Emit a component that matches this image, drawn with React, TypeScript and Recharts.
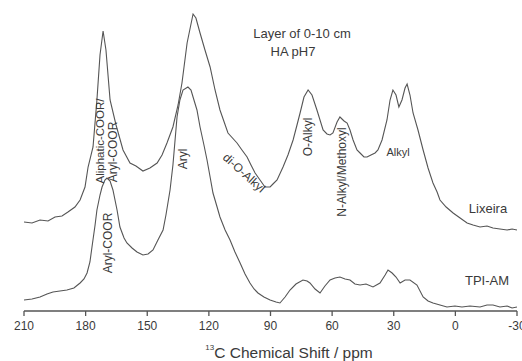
import React from 'react';
import { LineChart, Line, XAxis, YAxis } from 'recharts';

// chemical shift (ppm) and relative intensity
const lixeiraShift = [
  210, 206.1, 202.2, 198.3, 194.9, 191.5, 188.6, 185.2, 182.7, 180.3, 178.8, 176.4, 174.5, 173.0, 171.5,
  170.1, 168.1, 165.2, 161.8, 158.4, 155.5, 152.1, 148.7, 145.2, 142.8, 140.4, 137.5, 135.0, 133.1, 130.6,
  127.7, 126.3, 124.3, 121.9, 119.4, 117.0, 114.6, 110.7, 106.3, 103.9, 101.4, 99.5, 97.5, 95.1, 92.7,
  90.2, 88.8, 86.8, 83.9, 81.5, 79.0, 77.1, 75.6, 73.7, 71.7, 69.8, 67.4, 64.4, 62.5, 61.0,
  59.6, 57.6, 56.2, 54.2, 52.7, 51.3, 49.8, 47.9, 46.4, 44.5, 43.0, 41.1, 39.1, 37.7, 35.7,
  33.3, 31.8, 30.4, 28.9, 27.5, 26.0, 24.5, 23.5, 22.1, 20.6, 18.2, 15.7, 13.3, 10.9, 8.9,
  7.5, 4.5, 1.1, -2.3, -5.7, -8.6, -12.0, -15.4, -18.3, -21.7, -25.2, -27.6, -30,
];
const lixeiraIntensity = [
  89, 88, 91, 90, 94, 95, 99, 104, 111, 124, 144, 164, 211, 256, 280,
  261, 211, 186, 161, 148, 145, 140, 143, 148, 156, 168, 184, 206, 228, 268,
  297, 293, 278, 261, 244, 221, 201, 178, 168, 161, 154, 146, 138, 131, 124,
  124, 127, 131, 144, 156, 171, 186, 198, 214, 221, 216, 201, 181, 177, 176,
  178, 189, 194, 190, 188, 181, 171, 161, 158, 154, 154, 156, 158, 161, 171,
  191, 211, 221, 216, 204, 211, 223, 227, 216, 198, 181, 161, 143, 128, 119,
  111, 104, 98, 93, 88, 86, 84, 85, 83, 82, 81, 82, 81,
];

const tpiShift = [
  210, 206.1, 202.2, 198.8, 195.9, 192.5, 189.1, 185.7, 182.7, 180.8, 179.3, 177.9, 176.9, 175.4, 174.5,
  173.0, 172.0, 170.6, 169.6, 168.1, 166.7, 164.7, 163.3, 161.3, 159.9, 157.4, 155.0, 152.1, 149.6, 147.2,
  144.8, 142.3, 140.9, 138.9, 137.5, 135.5, 134.1, 132.6, 130.2, 128.7, 127.7, 125.8, 124.3, 122.4, 120.9,
  119.4, 118.0, 116.0, 114.6, 112.1, 109.7, 107.3, 104.8, 102.4, 100.0, 98.0, 96.1, 93.2, 90.2, 87.3,
  85.4, 82.9, 80.5, 77.6, 74.2, 72.2, 70.8, 68.3, 65.9, 63.5, 61.0, 58.6, 56.2, 53.7, 51.3,
  48.9, 46.4, 43.5, 40.1, 36.7, 34.2, 32.8, 30.8, 28.9, 26.9, 24.5, 22.1, 18.7, 15.7, 13.3,
  10.9, 7.5, 4.1, 0.2, -3.2, -7.1, -12.0, -15.4, -18.3, -21.7, -25.2, -27.6, -30,
];
const tpiIntensity = [
  11, 12, 14, 17, 19, 20, 21, 23, 28, 32, 38, 49, 64, 86, 101,
  116, 124, 131, 133, 130, 121, 101, 84, 73, 68, 63, 59, 56, 57, 61,
  71, 81, 96, 121, 146, 194, 211, 221, 224, 221, 214, 201, 184, 166, 151,
  134, 118, 104, 94, 81, 71, 59, 48, 37, 28, 22, 18, 14, 11, 9,
  8, 14, 21, 27, 31, 30, 28, 22, 18, 25, 31, 33, 34, 32, 31,
  27, 26, 27, 24, 28, 36, 41, 38, 34, 28, 31, 31, 26, 14, 10,
  8, 6, 4, 5, 4, 5, 4, 6, 6, 4, 5, 3, 4,
];

const majorTicks = [210, 180, 150, 120, 90, 60, 30, 0, -30];
const minorTicks = [210, 195, 180, 165, 150, 135, 120, 105, 90, 75, 60, 45, 30, 15, 0, -15, -30];

const lixeiraData = lixeiraShift.map((x, i) => ({ x, y: lixeiraIntensity[i] }));
const tpiData = tpiShift.map((x, i) => ({ x, y: tpiIntensity[i] }));

const FONT = '"Liberation Sans", Arial, sans-serif';
const INK = '#3a3a3a';
const LINE = '#555';

const VLabel = ({ x, y, text, size = 12, angle = -90 }: { x: number; y: number; text: string; size?: number; angle?: number }) => (
  <text
    x={x}
    y={y}
    transform={`rotate(${angle}, ${x}, ${y})`}
    textAnchor="middle"
    dominantBaseline="central"
    fontSize={size}
    fill={INK}
  >
    {text}
  </text>
);

export default function App() {
  return (
    <div style={{ position: 'absolute', left: 0, top: 0, width: 522, height: 361, background: '#fff', fontFamily: FONT }}>
      <LineChart width={522} height={361} margin={{ top: 5, right: 5, bottom: 0, left: 24 }}>
        {/* small inward ticks every 15 ppm */}
        <XAxis
          xAxisId="minor"
          dataKey="x"
          type="number"
          domain={[-30, 210]}
          reversed
          ticks={minorTicks}
          interval={0}
          tick={false}
          axisLine={false}
          mirror
          tickSize={3}
          height={0}
          stroke={LINE}
        />
        <XAxis
          dataKey="x"
          type="number"
          domain={[-30, 210]}
          reversed
          ticks={majorTicks}
          interval={0}
          height={50}
          tickSize={5}
          tickMargin={5}
          stroke={LINE}
          strokeWidth={1.3}
          tick={{ fill: INK, fontSize: 12, fontFamily: FONT }}
        />
        <YAxis type="number" domain={[0, 306]} hide />
        <Line data={lixeiraData} dataKey="y" stroke={LINE} strokeWidth={1.1} dot={false} isAnimationActive={false} />
        <Line data={tpiData} dataKey="y" stroke={LINE} strokeWidth={1.1} dot={false} isAnimationActive={false} />
      </LineChart>
      <svg
        width={522}
        height={361}
        style={{ position: 'absolute', left: 0, top: 0, pointerEvents: 'none', fontFamily: FONT }}
      >
        <text x={302} y={33} textAnchor="middle" dominantBaseline="central" fontSize={13} fill={INK}>
          Layer of 0-10 cm
        </text>
        <text x={293} y={51} textAnchor="middle" dominantBaseline="central" fontSize={13} fill={INK}>
          HA pH7
        </text>
        <VLabel x={100} y={141} text="Aliphatic-COOR/" size={11.5} />
        <VLabel x={113} y={152} text="Aryl-COOR" />
        <VLabel x={108} y={243} text="Aryl-COOR" />
        <VLabel x={183} y={159} text="Aryl" />
        <VLabel x={244} y={173} text="di-O-Alkyl" angle={42} />
        <VLabel x={308} y={137} text="O-Alkyl" />
        <VLabel x={342} y={172} text="N-Alkyl/Methoxyl" />
        <text x={398} y={152} textAnchor="middle" dominantBaseline="central" fontSize={11} fill={INK}>
          Alkyl
        </text>
        <text x={488} y={208} textAnchor="middle" dominantBaseline="central" fontSize={13} fill={INK}>
          Lixeira
        </text>
        <text x={487} y={280} textAnchor="middle" dominantBaseline="central" fontSize={13} fill={INK}>
          TPI-AM
        </text>
        <text x={289} y={352} textAnchor="middle" dominantBaseline="central" fontSize={15.5} fill={INK}>
          <tspan fontSize={8} dy={-5}>13</tspan>
          <tspan dy={5}>C Chemical Shift / ppm</tspan>
        </text>
      </svg>
    </div>
  );
}
